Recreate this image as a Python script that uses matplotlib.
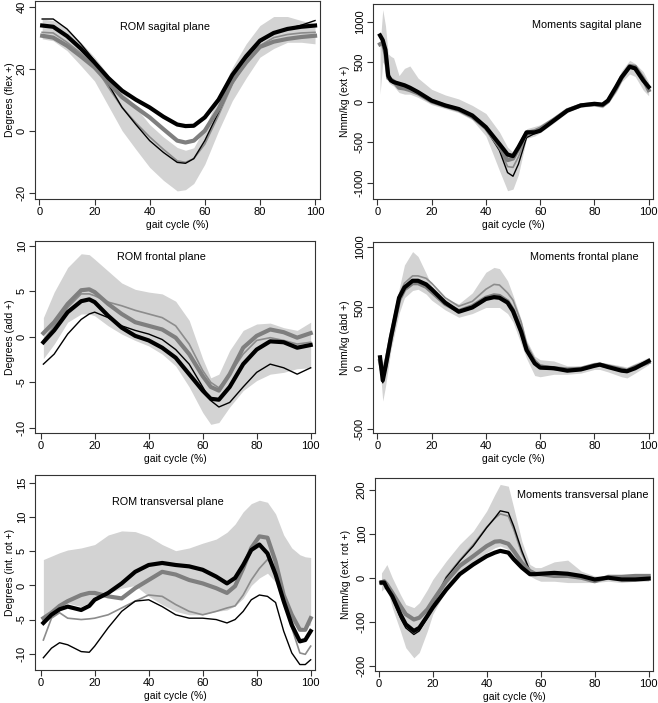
import matplotlib
matplotlib.use("Agg")
import matplotlib.pyplot as plt

plt.rcParams['font.family'] = ['Liberation Sans', 'DejaVu Sans']
plt.rcParams['font.size'] = 8

# ---- ROM sagittal plane ----
sag_x = [1, 5, 10, 15, 20, 25, 30, 35, 40, 45, 50, 53, 56, 60, 65, 70, 75, 80, 85, 90, 95, 100]
sag_thick_black = [33.9, 33.5, 30.5, 26.5, 22, 17, 12.9, 10, 7.5, 4.5, 2, 1.5, 1.6, 4.3, 10, 18, 24, 29, 31.5, 32.8, 33.5, 33.9]
sag_thick_grey = [30.6, 30, 27.4, 24, 20.4, 15.5, 10.8, 7.5, 4.3, 0.5, -3.2, -3.8, -3.2, 0, 7, 16, 22, 27, 28.7, 29.6, 30.2, 30.6]
sag_thin_black = [36, 36, 32.8, 28, 22.6, 15, 7.5, 2, -3.2, -7, -10.2, -10.5, -9, -3.2, 6, 16, 23, 28.5, 31.5, 32.8, 34, 35.5]
sag_thin_grey = [31.7, 31.5, 28.5, 25, 21, 14, 7.5, 2.5, -2, -6, -9.7, -10.2, -9, -4.3, 5, 15, 22, 27.4, 30, 31, 31.5, 31.7]
sag_band_hi = [36, 35.5, 33, 28.5, 23.7, 18, 12.9, 7.5, 2, -2, -5.4, -6.3, -5.5, 1, 11, 20.4, 28, 33.9, 36.8, 36.8, 35.5, 34.4]
sag_band_lo = [29.6, 29, 25.8, 21, 16, 8, 0, -6, -11.8, -16, -19.4, -19, -17, -10.8, 0, 9.7, 17, 23.7, 26.5, 28.5, 28.5, 28]

# ---- Moments sagittal plane ----
msag_x = [1, 2, 3, 4, 5, 6, 8, 10, 12, 15, 20, 25, 30, 35, 40, 45, 48, 50, 52, 55, 58, 60, 65, 70, 75, 80, 83, 85, 88, 90, 93, 95, 98, 100]
msag_thick_black = [830, 770, 650, 330, 270, 250, 230, 210, 180, 125, 20, -40, -85, -165, -310, -520, -650, -670, -560, -375, -375, -355, -230, -105, -40, -20, -30, 20, 190, 310, 440, 420, 270, 190]
msag_thin_black = [820, 760, 620, 320, 270, 250, 220, 200, 180, 120, 15, -45, -90, -175, -330, -600, -875, -920, -770, -440, -390, -360, -230, -105, -40, -20, -30, 20, 190, 310, 430, 410, 260, 180]
msag_thick_grey = [720, 740, 600, 300, 280, 260, 180, 170, 150, 110, 10, -45, -95, -180, -320, -550, -720, -700, -580, -380, -360, -330, -220, -100, -40, -25, -40, 10, 170, 300, 450, 440, 290, 150]
msag_thin_grey = [720, 740, 620, 310, 280, 250, 200, 190, 170, 115, 15, -40, -90, -170, -320, -570, -800, -810, -680, -420, -350, -320, -210, -95, -35, -20, -30, 15, 180, 300, 430, 420, 280, 170]
msag_band_hi = [700, 1150, 950, 600, 570, 550, 330, 420, 450, 300, 160, 90, 40, -40, -140, -370, -560, -620, -600, -330, -300, -280, -180, -70, -10, 0, -10, 50, 250, 390, 520, 480, 380, 250]
msag_band_lo = [100, 500, 450, 250, 220, 200, 120, 100, 100, 60, -30, -80, -130, -220, -420, -850, -1100, -1080, -900, -450, -420, -380, -260, -130, -60, -50, -70, -10, 120, 250, 350, 320, 150, 80]

# ---- ROM frontal plane ----
fro_x = [1, 5, 10, 15, 18, 20, 25, 30, 35, 40, 45, 50, 55, 60, 63, 66, 70, 75, 80, 85, 90, 95, 100]
fro_thick_black = [-0.6, 0.7, 2.7, 3.9, 4.1, 3.8, 2.3, 1.0, 0.1, -0.4, -1.2, -2.3, -4.1, -5.9, -6.8, -6.9, -5.5, -3.0, -1.4, -0.5, -0.6, -1.2, -0.9]
fro_thick_grey = [0.4, 1.6, 3.6, 5.1, 5.2, 4.9, 3.6, 2.5, 1.6, 1.2, 0.8, -0.1, -1.9, -4.3, -5.5, -5.9, -4.1, -1.2, 0.1, 0.8, 0.5, -0.1, 0.4]
fro_thin_grey = [-0.4, 1.2, 3.2, 4.7, 4.7, 4.5, 3.8, 3.4, 2.9, 2.5, 2.1, 1.2, -0.8, -3.7, -5.0, -5.6, -4.1, -1.9, -0.4, -0.1, -0.4, -0.8, -0.6]
fro_thin_black = [-3.0, -1.9, 0.3, 1.9, 2.5, 2.7, 2.1, 1.2, 0.7, 0.3, -0.3, -1.4, -3.0, -5.5, -7.0, -7.7, -7.2, -5.5, -3.9, -3.0, -3.4, -4.1, -3.4]
fro_band_hi = [2.1, 4.9, 7.6, 9.1, 9.0, 8.5, 7.2, 5.9, 5.2, 4.9, 4.7, 3.9, 1.8, -2.4, -4.5, -4.1, -1.5, 0.7, 1.4, 1.5, 1.0, 0.7, 1.6]
fro_band_lo = [-2.4, -0.8, 1.6, 2.5, 2.5, 2.3, 1.2, 0.3, -0.4, -1.0, -1.9, -3.2, -5.5, -8.3, -9.6, -9.4, -7.7, -5.9, -4.8, -4.1, -3.9, -3.5, -3.4]

# ---- Moments frontal plane ----
mfro_x = [1, 2, 3, 5, 8, 10, 13, 15, 18, 20, 25, 30, 35, 40, 43, 45, 48, 50, 53, 55, 58, 60, 65, 70, 75, 80, 82, 85, 90, 92, 95, 100]
mfro_thick_black = [90, -100, 10, 255, 580, 665, 720, 720, 690, 650, 540, 465, 500, 570, 585, 580, 540, 470, 300, 150, 40, 5, 0, -20, -10, 20, 30, 10, -20, -25, 0, 60]
mfro_thick_grey = [60, -50, 20, 250, 560, 650, 700, 700, 670, 630, 530, 470, 510, 580, 600, 595, 550, 480, 310, 160, 50, 15, 0, -10, -5, 25, 30, 15, -10, -20, 10, 50]
mfro_thin_grey = [60, -50, 30, 270, 600, 700, 760, 760, 740, 700, 580, 510, 550, 650, 690, 685, 620, 560, 380, 200, 70, 25, 5, -5, 0, 25, 30, 15, -10, -20, 10, 55]
mfro_thin_black = [80, -120, 0, 240, 570, 660, 710, 710, 680, 640, 535, 460, 495, 565, 580, 575, 535, 465, 290, 140, 35, 0, -5, -25, -15, 15, 25, 5, -25, -30, 0, 55]
mfro_band_hi = [100, 50, 100, 300, 650, 850, 960, 920, 780, 680, 570, 530, 620, 790, 830, 820, 720, 600, 400, 230, 100, 70, 60, 20, 20, 50, 50, 40, 20, 10, 40, 90]
mfro_band_lo = [0, -270, -150, 150, 450, 580, 640, 650, 610, 560, 480, 420, 450, 500, 500, 500, 450, 380, 200, 80, -60, -70, -50, -50, -40, -10, -10, -30, -70, -80, -40, 30]

# ---- ROM transversal plane ----
tra_x = [1, 4, 7, 10, 15, 18, 20, 25, 30, 35, 40, 45, 50, 55, 60, 65, 69, 72, 75, 78, 81, 84, 87, 90, 93, 96, 98, 100]
tra_thick_black = [-5.5, -4.3, -3.5, -3.1, -3.6, -3.0, -2.1, -1.1, 0.3, 2.0, 3.0, 3.3, 3.0, 2.8, 2.3, 1.3, 0.3, 1.1, 3.0, 5.2, 6.0, 4.7, 1.6, -2.3, -5.8, -8.2, -8.0, -6.7]
tra_thick_grey = [-4.8, -4.0, -3.0, -2.3, -1.4, -1.1, -1.1, -1.6, -1.9, -0.4, 0.8, 2.0, 1.6, 0.8, 0.3, -0.4, -1.1, -0.1, 2.5, 5.5, 7.2, 7.0, 3.5, -1.4, -4.3, -6.5, -6.5, -4.8]
tra_thin_grey = [-8.0, -4.8, -4.0, -4.8, -5.0, -4.9, -4.8, -4.3, -3.3, -2.3, -1.4, -1.6, -2.8, -3.8, -4.3, -3.8, -3.3, -3.0, -1.4, 0.8, 2.5, 3.8, 2.5, -2.3, -6.2, -9.9, -10.1, -8.9]
tra_thin_black = [-10.6, -9.2, -8.4, -8.7, -9.7, -9.8, -8.9, -6.2, -3.8, -2.3, -2.1, -3.1, -4.3, -4.8, -4.8, -5.0, -5.5, -5.0, -3.8, -2.1, -1.4, -1.6, -2.5, -6.7, -9.9, -11.6, -11.6, -10.9]
tra_band_hi = [3.8, 4.3, 4.8, 5.2, 5.5, 5.8, 6.0, 7.4, 8.0, 7.9, 7.2, 6.0, 5.1, 5.5, 6.2, 6.8, 7.8, 9.0, 10.8, 12.0, 12.5, 12.2, 10.5, 7.4, 5.5, 4.5, 4.2, 4.1]
tra_band_lo = [-5.8, -4.0, -3.0, -2.6, -3.1, -2.5, -2.1, -1.1, -0.4, 0.0, -1.6, -2.8, -3.8, -4.3, -4.3, -3.8, -3.6, -3.0, -1.9, 0.0, 1.1, 1.8, 0.5, -3.3, -5.5, -6.2, -6.0, -5.8]

# ---- Moments transversal plane ----
mtra_x = [1, 2, 3, 5, 8, 10, 13, 15, 18, 20, 25, 30, 35, 40, 43, 45, 48, 50, 53, 56, 58, 60, 65, 70, 75, 80, 85, 90, 95, 100]
mtra_thick_black = [-11, -11, -23, -42, -83, -106, -121, -114, -87, -68, -27, 8, 30, 49, 57, 61, 57, 42, 23, 8, 8, 9, 11, 9, 4, -4, 0, -4, -4, -2]
mtra_thick_grey = [-11, -8, -15, -34, -64, -83, -95, -91, -72, -53, -8, 27, 49, 72, 82, 83, 77, 61, 34, 15, 9, 8, 4, 4, 0, -8, 2, 2, 4, 4]
mtra_thin_black = [-15, -8, -18, -45, -91, -114, -129, -121, -91, -61, 0, 38, 72, 114, 136, 152, 148, 117, 61, 15, 8, 9, 11, 9, 4, -4, 0, -4, -4, -2]
mtra_thin_grey = [-12, -8, -18, -43, -85, -108, -125, -118, -88, -58, 2, 40, 75, 115, 135, 145, 140, 110, 55, 15, 8, 8, 5, 4, 0, -6, 2, 2, 3, 3]
mtra_band_hi = [11, 20, 30, 0, -38, -61, -68, -57, -27, -4, 38, 76, 106, 152, 189, 212, 208, 159, 83, 30, 23, 23, 36, 40, 15, 4, 4, 6, 6, 4]
mtra_band_lo = [-30, -25, -23, -68, -121, -159, -182, -170, -121, -83, -27, 8, 34, 57, 68, 72, 64, 45, 23, 4, -3, -8, -8, -11, -11, -11, -8, -11, -8, -8]

W, H = 658, 703
fig = plt.figure(figsize=(W / 100, H / 100), dpi=100)


def make_ax(l, t, r, b):
    return fig.add_axes([l / W, 1 - b / H, (r - l) / W, (b - t) / H])


def draw(ax, x, lo, hi, tb, tg, nb, ng, title, tpos, ylabel, xlim, ylim, yticks, label_x):
    ax.fill_between(x, lo, hi, color="#d3d3d3", lw=0)
    ax.plot(x, ng, color="#8c8c8c", lw=1.2)
    ax.plot(x, nb, color="black", lw=1.0)
    ax.plot(x, tg, color="#7f7f7f", lw=3.0)
    ax.plot(x, tb, color="black", lw=3.0)
    ax.set_xlim(*xlim)
    ax.set_ylim(*ylim)
    ax.set_xticks([0, 20, 40, 60, 80, 100])
    ax.set_yticks(yticks)
    ax.set_yticklabels([str(v) for v in yticks], rotation=90, va="center")
    ax.tick_params(direction="out", length=4, width=0.8, labelsize=8, pad=2, color="#333333")
    for s in ax.spines.values():
        s.set_linewidth(0.8)
        s.set_color("#333333")
    ax.set_xlabel("gait cycle (%)", fontsize=7.5, labelpad=2)
    ax.set_ylabel(ylabel, fontsize=7.5)
    ax.yaxis.set_label_coords(label_x, 0.5)
    ax.text(tpos[0], tpos[1], title, transform=ax.transAxes, ha="center", va="center", fontsize=7.8)


ax1 = make_ax(35, 1, 320, 199)
draw(ax1, sag_x, sag_band_lo, sag_band_hi, sag_thick_black, sag_thick_grey, sag_thin_black, sag_thin_grey,
     "ROM sagital plane", (0.456, 0.869), "Degrees (flex +)", (-1.6, 101.8), (-22, 41.8), [-20, 0, 20, 40], -0.07)

ax2 = make_ax(373, 4, 653, 199)
draw(ax2, msag_x, msag_band_lo, msag_band_hi, msag_thick_black, msag_thick_grey, msag_thin_black, msag_thin_grey,
     "Moments sagital plane", (0.763, 0.892), "Nmm/kg (ext +)", (-1.6, 101.6), (-1203, 1220), [-1000, -500, 0, 500, 1000], -0.082)

ax3 = make_ax(35, 241, 315, 433)
draw(ax3, fro_x, fro_band_lo, fro_band_hi, fro_thick_black, fro_thick_grey, fro_thin_black, fro_thin_grey,
     "ROM frontal plane", (0.45, 0.915), "Degrees (add +)", (-2.1, 101.6), (-10.55, 10.5), [-10, -5, 0, 5, 10], -0.071)

ax4 = make_ax(373, 242, 653, 433)
draw(ax4, mfro_x, mfro_band_lo, mfro_band_hi, mfro_thick_black, mfro_thick_grey, mfro_thin_black, mfro_thin_grey,
     "Moments frontal plane", (0.754, 0.92), "Nmm/kg (abd +)", (-1.6, 101.6), (-533, 1039), [-500, 0, 500, 1000], -0.082)

ax5 = make_ax(35, 475, 315, 670)
draw(ax5, tra_x, tra_band_lo, tra_band_hi, tra_thick_black, tra_thick_grey, tra_thin_black, tra_thin_grey,
     "ROM transversal plane", (0.475, 0.86), "Degrees (int. rot +)", (-2.1, 101.6), (-12.4, 16.2), [-10, -5, 0, 5, 10, 15], -0.071)

ax6 = make_ax(375, 478, 653, 671)
draw(ax6, mtra_x, mtra_band_lo, mtra_band_hi, mtra_thick_black, mtra_thick_grey, mtra_thin_black, mtra_thin_grey,
     "Moments transversal plane", (0.747, 0.913), "Nmm/kg (ext. rot +)", (-1.4, 101.6), (-212, 226.6), [-200, -100, 0, 100, 200], -0.085)

fig.savefig("out.png", dpi=100)
